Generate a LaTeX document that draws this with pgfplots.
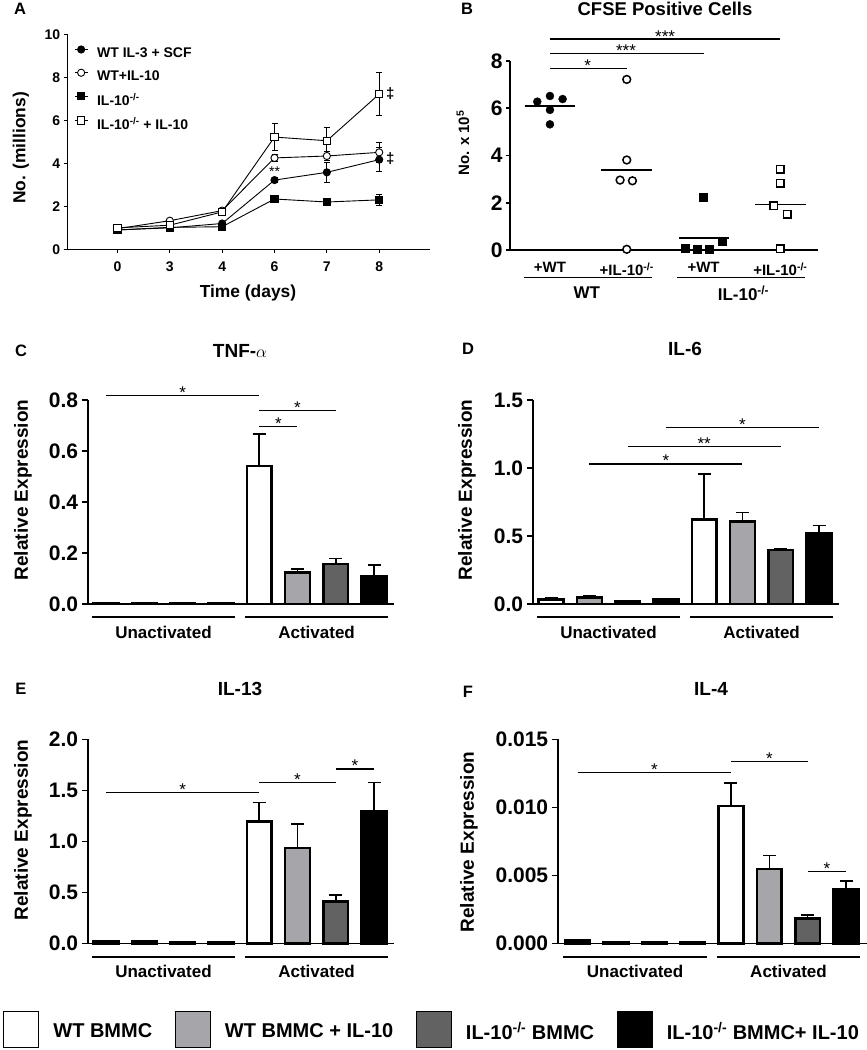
\documentclass[border=0pt]{standalone}
\usepackage{fontspec}
\setmainfont{Liberation Sans}
\usepackage{pgfplots}
\pgfplotsset{compat=1.18}
\newcommand\fs[1]{\fontsize{#1}{#1}\selectfont\bfseries}
\newcommand\fr[1]{\fontsize{#1}{#1}\selectfont}
\newcommand\ko{\textsuperscript{-/-}}
\definecolor{lgray}{RGB}{166,166,170}
\definecolor{dgray}{RGB}{98,98,98}

\pgfplotsset{
  barpanel/.style={scale only axis, anchor=south west, axis lines=left,
    axis line style={-, line width=1.6pt}, tick align=outside,
    major tick length=6pt, tick style={line width=1.5pt, black},
    xtick=\empty, ymin=0, xmin=-0.48, xmax=7.53, width=306.6pt, height=204pt,
    clip=false, tick label style={font=\fs{21}},
    /pgf/number format/assume math mode=true,
    yticklabel style={/pgf/number format/.cd, fixed, fixed zerofill, precision=1}},
  barstyle/.style={ybar, bar shift=0pt, bar width=24.8pt, draw=black, line width=2.5pt,
    error bars/.cd, y dir=plus, y explicit,
    error bar style={line width=1.6pt, black},
    error mark options={rotate=90, mark size=6.5pt, line width=1.6pt, black}},
  lineerr/.style={error bars/.cd, y dir=both, y explicit, error bar style={line width=0.9pt},
    error mark options={rotate=90, mark size=3pt, line width=0.9pt}},
}
\tikzset{
  grp/.style={line width=1.7pt},
  sig/.style={line width=1.3pt},
  star/.style={font=\fr{17}, anchor=base, yshift=-3pt, inner sep=0pt},
}

\begin{document}
\begin{tikzpicture}
\path[use as bounding box] (0pt,0pt) rectangle (867pt,-1050pt);

% ---------- A: growth curves
\begin{axis}[at={(67.7pt,-249.3pt)}, anchor=south west, scale only axis,
  width=362.3pt, height=215pt,
  axis lines=left, axis line style={-, line width=1.3pt}, tick align=outside,
  major tick length=4pt, tick style={line width=1.2pt, black},
  xmin=-0.95, xmax=5.97, ymin=0, ymax=10,
  xtick={0,...,5}, xticklabels={0,3,4,6,7,8}, ytick={0,2,...,10},
  tick label style={font=\fs{14}}, xticklabel style={yshift=-5pt},
  /pgf/number format/assume math mode=true, clip=false,
  legend style={draw=none, fill=none, inner sep=0pt, at={(rel axis cs:0.0174,0.947)},
    anchor=north west, font=\fs{14}, row sep=10pt, nodes={inner sep=0pt},
    /tikz/every odd column/.append style={column sep=9pt}},
  legend cell align=left,
  legend image code/.code={\draw[#1, mark repeat=2, mark phase=2] plot coordinates {(0pt,4pt) (6.5pt,4pt) (13pt,4pt)};}]
\addplot[black, line width=0.9pt, mark=*, mark size=3.6pt, lineerr]
  coordinates {(0,0.9)+-(0,0.05) (1,1.0)+-(0,0.05) (2,1.2)+-(0,0.08) (3,3.22)+-(0,0.12) (4,3.58)+-(0,0.45) (5,4.17)+-(0,0.55)};
\addplot[black, line width=0.9pt, mark=*, mark size=3.6pt, mark options={fill=white}, lineerr]
  coordinates {(0,0.96)+-(0,0.05) (1,1.33)+-(0,0.08) (2,1.8)+-(0,0.1) (3,4.25)+-(0,0.15) (4,4.34)+-(0,0.2) (5,4.51)+-(0,0.45)};
\addplot[black, line width=0.9pt, mark=square*, mark size=3.6pt, lineerr]
  coordinates {(0,0.9)+-(0,0.04) (1,1.02)+-(0,0.04) (2,1.05)+-(0,0.05) (3,2.34)+-(0,0.06) (4,2.2)+-(0,0.08) (5,2.3)+-(0,0.25)};
\addplot[black, line width=0.9pt, mark=square*, mark size=3.6pt, mark options={fill=white}, lineerr]
  coordinates {(0,1.0)+-(0,0.05) (1,1.12)+-(0,0.06) (2,1.74)+-(0,0.1) (3,5.22)+-(0,0.63) (4,5.05)+-(0,0.64) (5,7.22)+-(0,1.0)};
\legend{WT IL-3 + SCF, WT+IL-10, IL-10\ko, IL-10\ko{} + IL-10}
\node[font=\fr{14}] at (axis cs:3,3.6) {**};
\node[font=\fs{15}] at (axis cs:5.21,7.22) {‡};
\node[font=\fs{15}] at (axis cs:5.21,4.23) {‡};
\end{axis}

% ---------- B: CFSE positive cells
\begin{axis}[at={(510pt,-250pt)}, anchor=south west, scale only axis,
  width=308pt, height=189pt,
  axis lines=left, axis line style={-}, x axis line style={line width=2.6pt},
  y axis line style={line width=2pt}, tick align=outside,
  major tick length=4pt, tick style={line width=1.8pt, black}, xtick style={draw=none},
  xmin=-0.52, xmax=3.49, ymin=0, ymax=8, ytick={0,2,4,6,8},
  xtick={0,1,2,3}, xticklabels={+WT, +IL-10\ko, +WT, +IL-10\ko},
  yticklabel style={font=\fs{21}}, xticklabel style={font=\fs{15}, yshift=-5pt},
  /pgf/number format/assume math mode=true, clip=false]
\addplot[only marks, mark=*, mark size=4pt, black]
  coordinates {(-0.165,6.28) (0,6.52) (0.165,6.39) (0,5.93) (0,5.32)};
\addplot[only marks, mark=*, mark size=3.9pt, black, line width=1.5pt, mark options={fill=white}]
  coordinates {(1,7.22) (1,3.81) (0.913,2.96) (1.074,2.93) (1,0.03)};
\addplot[only marks, mark=square*, mark size=3.9pt, black]
  coordinates {(2,2.23) (2.239,0.35) (1.761,0.07) (1.913,0.02) (2.078,0.02)};
\addplot[only marks, mark=square*, mark size=3.8pt, black, line width=1.5pt, mark options={fill=white}]
  coordinates {(3,3.41) (3,2.82) (2.913,1.88) (3.087,1.52) (3,0.05)};
% group means
\addplot[black, line width=1.6pt] coordinates {(-0.33,6.1) (0.33,6.1)};
\addplot[black, line width=1.6pt] coordinates {(0.67,3.39) (1.33,3.39)};
\addplot[black, line width=1.6pt] coordinates {(1.674,0.52) (2.326,0.52)};
\addplot[black, line width=1.6pt] coordinates {(2.67,1.93) (3.33,1.93)};
\draw[sig] (axis cs:0,7.67) -- (axis cs:1,7.67);
\node[star] at (axis cs:0.49,7.67) {*};
\draw[sig] (axis cs:0,8.33) -- (axis cs:2,8.33);
\node[star] at (axis cs:0.99,8.33) {***};
\draw[sig] (axis cs:0,8.93) -- (axis cs:3,8.93);
\node[star] at (axis cs:1.5,8.93) {***};
\draw[grp] (axis cs:-0.34,-1.16) -- (axis cs:1.33,-1.16);
\draw[grp] (axis cs:1.66,-1.16) -- (axis cs:3.32,-1.16);
\node[font=\fs{17}] at (axis cs:0.48,-1.82) {WT};
\node[font=\fs{17}] at (axis cs:2.52,-1.82) {IL-10\ko};
\end{axis}

% ---------- C: TNF-alpha
\begin{axis}[barpanel, at={(87.7pt,-604pt)}, ymax=0.8, ytick={0,0.2,...,0.8}]
\addplot[fill=white, barstyle] coordinates {(0,0.003)+-(0,0) (4,0.542)+-(0,0.125)};
\addplot[fill=lgray, barstyle] coordinates {(1,0.003)+-(0,0) (5,0.123)+-(0,0.014)};
\addplot[fill=dgray, barstyle] coordinates {(2,0.003)+-(0,0) (6,0.156)+-(0,0.022)};
\addplot[fill=black, barstyle] coordinates {(3,0.003)+-(0,0) (7,0.107)+-(0,0.045)};
\draw[sig] (axis cs:0,0.817) -- (axis cs:4,0.817); \node[star] at (axis cs:2,0.817) {*};
\draw[sig] (axis cs:4,0.758) -- (axis cs:6,0.758); \node[star] at (axis cs:5,0.758) {*};
\draw[sig] (axis cs:4,0.695) -- (axis cs:5,0.695); \node[star] at (axis cs:4.5,0.695) {*};
\draw[grp] (axis cs:-0.37,-0.052) -- (axis cs:3.37,-0.052);
\draw[grp] (axis cs:3.63,-0.052) -- (axis cs:7.36,-0.052);
\node[font=\fs{17}] at (axis cs:1.5,-0.11) {Unactivated};
\node[font=\fs{17}] at (axis cs:5.5,-0.11) {Activated};
\end{axis}

% ---------- D: IL-6
\begin{axis}[barpanel, at={(532.7pt,-604pt)}, ymax=1.5, ytick={0,0.5,1,1.5}]
\addplot[fill=white, barstyle] coordinates {(0,0.034)+-(0,0.015) (4,0.623)+-(0,0.333)};
\addplot[fill=lgray, barstyle] coordinates {(1,0.049)+-(0,0.012) (5,0.605)+-(0,0.067)};
\addplot[fill=dgray, barstyle] coordinates {(2,0.017)+-(0,0.002) (6,0.397)+-(0,0.007)};
\addplot[fill=black, barstyle] coordinates {(3,0.032)+-(0,0.005) (7,0.52)+-(0,0.058)};
\draw[sig] (axis cs:3,1.30) -- (axis cs:7,1.30); \node[star] at (axis cs:5,1.30) {*};
\draw[sig] (axis cs:2,1.16) -- (axis cs:6,1.16); \node[star] at (axis cs:4,1.16) {**};
\draw[sig] (axis cs:1,1.03) -- (axis cs:5,1.03); \node[star] at (axis cs:3,1.03) {*};
\draw[grp] (axis cs:-0.37,-0.098) -- (axis cs:3.37,-0.098);
\draw[grp] (axis cs:3.63,-0.098) -- (axis cs:7.37,-0.098);
\node[font=\fs{17}] at (axis cs:1.5,-0.206) {Unactivated};
\node[font=\fs{17}] at (axis cs:5.5,-0.206) {Activated};
\end{axis}

% ---------- E: IL-13 (carries the shared legend)
\begin{axis}[barpanel, at={(87.7pt,-943.3pt)}, ymax=2, ytick={0,0.5,...,2},
  legend columns=4,
  legend style={draw=none, fill=none, inner sep=0pt, at={(rel axis cs:-0.2763,-0.4225)},
    anchor=west, font=\fs{20}, nodes={inner sep=0pt},
    /tikz/every odd column/.append style={column sep=14pt},
    /tikz/every even column/.append style={column sep=22.5pt}},
  legend image code/.code={\draw[#1, line width=1.2pt] (0pt,-16pt) rectangle (35pt,20pt);}]
\addplot[fill=white, barstyle] coordinates {(0,0.02)+-(0,0) (4,1.196)+-(0,0.183)};
\addplot[fill=lgray, barstyle] coordinates {(1,0.02)+-(0,0) (5,0.935)+-(0,0.235)};
\addplot[fill=dgray, barstyle] coordinates {(2,0.01)+-(0,0) (6,0.412)+-(0,0.062)};
\addplot[fill=black, barstyle] coordinates {(3,0.01)+-(0,0) (7,1.294)+-(0,0.281)};
\legend{WT BMMC, WT BMMC + IL-10, IL-10\ko{} BMMC, IL-10\ko{} BMMC+ IL-10}
\draw[sig] (axis cs:0,1.48) -- (axis cs:4,1.48); \node[star] at (axis cs:2,1.48) {*};
\draw[sig] (axis cs:4,1.578) -- (axis cs:6,1.578); \node[star] at (axis cs:5,1.578) {*};
\draw[sig] (axis cs:6,1.709) -- (axis cs:7,1.709); \node[star] at (axis cs:6.5,1.709) {*};
\draw[grp] (axis cs:-0.37,-0.131) -- (axis cs:3.37,-0.131);
\draw[grp] (axis cs:3.63,-0.131) -- (axis cs:7.36,-0.131);
\node[font=\fs{17}] at (axis cs:1.5,-0.278) {Unactivated};
\node[font=\fs{17}] at (axis cs:5.5,-0.278) {Activated};
\end{axis}

% ---------- F: IL-4
\begin{axis}[barpanel, at={(557.7pt,-943.3pt)}, width=309pt, xmin=-0.52, xmax=7.54,
  ymax=0.015, ytick={0,0.005,0.01,0.015}, scaled y ticks=false,
  yticklabel style={/pgf/number format/.cd, fixed, fixed zerofill, precision=3}]
\addplot[fill=white, barstyle] coordinates {(0,0.0002)+-(0,0.00005) (4,0.0101)+-(0,0.0017)};
\addplot[fill=lgray, barstyle] coordinates {(1,0.0001)+-(0,0) (5,0.00547)+-(0,0.001)};
\addplot[fill=dgray, barstyle] coordinates {(2,0.00005)+-(0,0) (6,0.00184)+-(0,0.00024)};
\addplot[fill=black, barstyle] coordinates {(3,0.0001)+-(0,0) (7,0.00397)+-(0,0.0006)};
\draw[sig] (axis cs:0,0.01257) -- (axis cs:4,0.01257); \node[star] at (axis cs:2,0.01257) {*};
\draw[sig] (axis cs:4,0.01335) -- (axis cs:6,0.01335); \node[star] at (axis cs:5,0.01335) {*};
\draw[sig] (axis cs:6,0.00526) -- (axis cs:7,0.00526); \node[star] at (axis cs:6.5,0.00526) {*};
\draw[grp] (axis cs:-0.38,-0.000985) -- (axis cs:3.37,-0.000985);
\draw[grp] (axis cs:3.63,-0.000985) -- (axis cs:7.37,-0.000985);
\node[font=\fs{17}] at (axis cs:1.5,-0.00209) {Unactivated};
\node[font=\fs{17}] at (axis cs:5.5,-0.00209) {Activated};
\end{axis}

% ---------- panel letters, titles, axis labels
\node[font=\fs{16.5}] at (20pt,-9pt) {A};
\node[font=\fs{16.5}] at (467pt,-9pt) {B};
\node[font=\fs{16.5}] at (21pt,-351pt) {C};
\node[font=\fs{16.5}] at (468pt,-349pt) {D};
\node[font=\fs{16.5}] at (21pt,-689pt) {E};
\node[font=\fs{16.5}] at (468pt,-692pt) {F};
\node[font=\fs{18.5}] at (665pt,-9pt) {CFSE Positive Cells};
\node[font=\fs{19}] at (240pt,-351pt) {TNF-$\alpha$};
\node[font=\fs{19}] at (685pt,-349pt) {IL-6};
\node[font=\fs{19}] at (240pt,-689pt) {IL-13};
\node[font=\fs{19}] at (711pt,-689pt) {IL-4};
\node[font=\fs{17.4}, rotate=90] at (21pt,-148pt) {No. (millions)};
\node[font=\fs{17.4}] at (248pt,-293pt) {Time (days)};
\node[font=\fs{15}, rotate=90] at (463pt,-143pt) {No. x 10\textsuperscript{5}};
\node[font=\fs{19}, rotate=90] at (23pt,-490pt) {Relative Expression};
\node[font=\fs{19}, rotate=90] at (467pt,-490pt) {Relative Expression};
\node[font=\fs{19}, rotate=90] at (23pt,-830pt) {Relative Expression};
\node[font=\fs{19}, rotate=90] at (469pt,-842pt) {Relative Expression};
\end{tikzpicture}
\end{document}
